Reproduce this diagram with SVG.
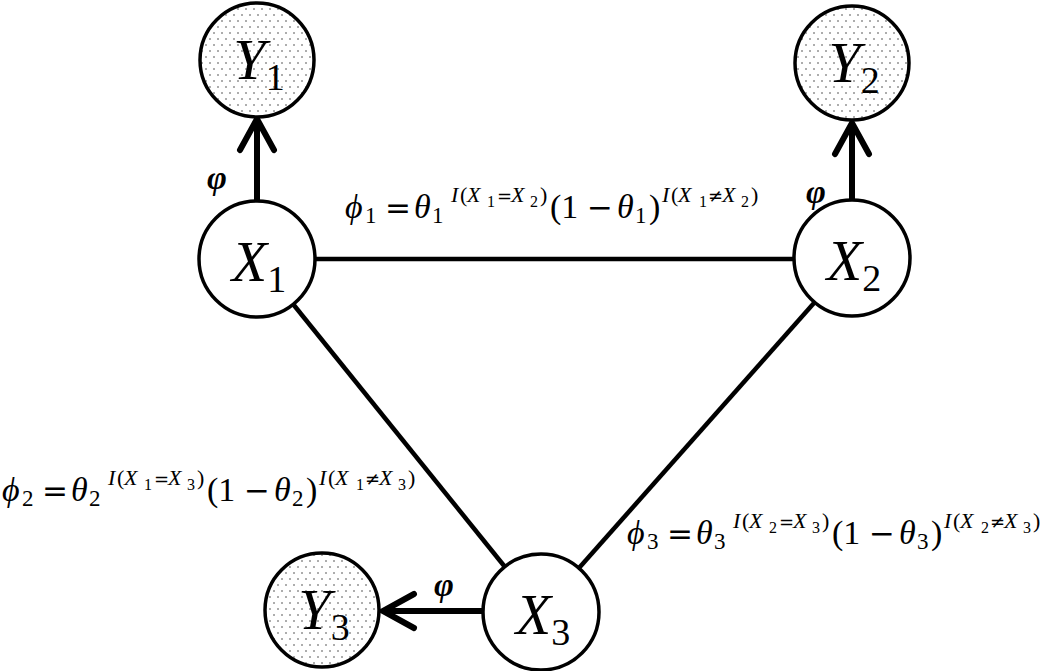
<svg xmlns="http://www.w3.org/2000/svg" width="1050" height="671" viewBox="0 0 1050 671">
<style>
.node{fill:#fff;stroke:#000;stroke-width:3.5}
.obs{fill:url(#dots);stroke:#000;stroke-width:3.5}
.edge{stroke:#000;stroke-width:4.5;fill:none}
.arr{stroke:#000;stroke-width:6;fill:none}
.nl{font-family:"Liberation Serif",serif;font-size:58px;fill:#000;text-anchor:middle}
.nl .i{font-style:italic}
.nl .s{font-size:38px;font-style:normal}
.eq{font-family:"Liberation Serif",serif;font-size:34px;fill:#000}
.i{font-style:italic}
.op{font-family:"DejaVu Sans",sans-serif;font-size:31px}
.sub{font-size:23px}
.sup{font-size:22px}
.sup.op{font-size:18px}
.ss{font-size:16px}
.phi{font-family:"Liberation Serif",serif;font-size:34px;font-weight:bold;font-style:italic;fill:#000}
</style>
<defs>
<pattern id="dots" width="8" height="12" patternUnits="userSpaceOnUse">
<rect width="8" height="12" fill="#fff"/>
<circle cx="2" cy="3" r="0.8" fill="#444"/>
<circle cx="6" cy="9" r="0.8" fill="#444"/>
</pattern>
<marker id="chev" markerUnits="userSpaceOnUse" viewBox="-45 -25 50 50" markerWidth="50" markerHeight="50" refX="0" refY="0" orient="auto" overflow="visible">
<path d="M -31 -17 L 0 0 L -31 17" fill="none" stroke="#000" stroke-width="6" stroke-linecap="round" stroke-linejoin="miter"/>
</marker>
</defs>

<g id="connectors">
<line class="edge" x1="315" y1="259" x2="794" y2="259"/>
<line class="edge" x1="293" y1="304" x2="505" y2="567"/>
<line class="edge" x1="814" y1="303" x2="579" y2="568"/>
<line class="arr" x1="257" y1="201" x2="257" y2="119" marker-end="url(#chev)"/>
<line class="arr" x1="852" y1="200" x2="852" y2="123" marker-end="url(#chev)"/>
<line class="arr" x1="483" y1="611" x2="383" y2="611" marker-end="url(#chev)"/>
<text class="phi" x="207" y="189">φ</text>
<text class="phi" x="806" y="203">φ</text>
<text class="phi" x="434" y="596">φ</text>
</g>

<g id="Y1">
<circle class="obs" cx="257" cy="60" r="57"/>
<text class="nl" x="259" y="79"><tspan class="i">Y</tspan><tspan class="s" dy="11">1</tspan></text>
</g>
<g id="Y2">
<circle class="obs" cx="852" cy="63" r="57"/>
<text class="nl" x="854" y="82"><tspan class="i">Y</tspan><tspan class="s" dy="11">2</tspan></text>
</g>
<g id="Y3">
<circle class="obs" cx="322" cy="610" r="57"/>
<text class="nl" x="324" y="629"><tspan class="i">Y</tspan><tspan class="s" dy="11">3</tspan></text>
</g>
<g id="X1">
<circle class="node" cx="257" cy="259" r="58"/>
<text class="nl" x="259" y="281"><tspan class="i">X</tspan><tspan class="s" dy="11">1</tspan></text>
</g>
<g id="X2">
<circle class="node" cx="852" cy="258" r="58"/>
<text class="nl" x="854" y="280"><tspan class="i">X</tspan><tspan class="s" dy="11">2</tspan></text>
</g>
<g id="X3">
<circle class="node" cx="541" cy="612" r="58"/>
<text class="nl" x="543" y="634"><tspan class="i">X</tspan><tspan class="s" dy="11">3</tspan></text>
</g>

<g id="label-phi1">
<text class="eq"><tspan class="i" x="345" y="218">ϕ</tspan><tspan class="sub" x="365" y="223">1</tspan><tspan class="op" x="385" y="218">=</tspan><tspan class="i" x="414" y="218">θ</tspan><tspan class="sub" x="432" y="223">1</tspan><tspan class="sup i" x="451" y="202">I</tspan><tspan class="sup" x="460" y="202">(</tspan><tspan class="sup i" x="467" y="202">X</tspan><tspan class="ss" x="487" y="207">1</tspan><tspan class="sup op" x="497" y="202">=</tspan><tspan class="sup i" x="511" y="202">X</tspan><tspan class="ss" x="530" y="207">2</tspan><tspan class="sup" x="540" y="202">)</tspan><tspan x="550" y="218">(1</tspan><tspan class="op" x="587" y="218">−</tspan><tspan class="i" x="617" y="218">θ</tspan><tspan class="sub" x="635" y="223">1</tspan><tspan x="649" y="218">)</tspan><tspan class="sup i" x="662" y="202">I</tspan><tspan class="sup" x="671" y="202">(</tspan><tspan class="sup i" x="678" y="202">X</tspan><tspan class="ss" x="699" y="207">1</tspan><tspan class="sup op" x="708" y="202">≠</tspan><tspan class="sup i" x="722" y="202">X</tspan><tspan class="ss" x="741" y="207">2</tspan><tspan class="sup" x="751" y="202">)</tspan></text>
</g>
<g id="label-phi2">
<text class="eq"><tspan class="i" x="2" y="501">ϕ</tspan><tspan class="sub" x="22" y="506">2</tspan><tspan class="op" x="42" y="501">=</tspan><tspan class="i" x="71" y="501">θ</tspan><tspan class="sub" x="89" y="506">2</tspan><tspan class="sup i" x="108" y="485">I</tspan><tspan class="sup" x="117" y="485">(</tspan><tspan class="sup i" x="124" y="485">X</tspan><tspan class="ss" x="144" y="490">1</tspan><tspan class="sup op" x="154" y="485">=</tspan><tspan class="sup i" x="168" y="485">X</tspan><tspan class="ss" x="187" y="490">3</tspan><tspan class="sup" x="197" y="485">)</tspan><tspan x="207" y="501">(1</tspan><tspan class="op" x="244" y="501">−</tspan><tspan class="i" x="274" y="501">θ</tspan><tspan class="sub" x="292" y="506">2</tspan><tspan x="306" y="501">)</tspan><tspan class="sup i" x="319" y="485">I</tspan><tspan class="sup" x="328" y="485">(</tspan><tspan class="sup i" x="335" y="485">X</tspan><tspan class="ss" x="356" y="490">1</tspan><tspan class="sup op" x="365" y="485">≠</tspan><tspan class="sup i" x="379" y="485">X</tspan><tspan class="ss" x="398" y="490">3</tspan><tspan class="sup" x="408" y="485">)</tspan></text>
</g>
<g id="label-phi3">
<text class="eq"><tspan class="i" x="627" y="544">ϕ</tspan><tspan class="sub" x="647" y="549">3</tspan><tspan class="op" x="667" y="544">=</tspan><tspan class="i" x="696" y="544">θ</tspan><tspan class="sub" x="714" y="549">3</tspan><tspan class="sup i" x="733" y="528">I</tspan><tspan class="sup" x="742" y="528">(</tspan><tspan class="sup i" x="749" y="528">X</tspan><tspan class="ss" x="769" y="533">2</tspan><tspan class="sup op" x="779" y="528">=</tspan><tspan class="sup i" x="793" y="528">X</tspan><tspan class="ss" x="812" y="533">3</tspan><tspan class="sup" x="822" y="528">)</tspan><tspan x="832" y="544">(1</tspan><tspan class="op" x="869" y="544">−</tspan><tspan class="i" x="899" y="544">θ</tspan><tspan class="sub" x="917" y="549">3</tspan><tspan x="931" y="544">)</tspan><tspan class="sup i" x="944" y="528">I</tspan><tspan class="sup" x="953" y="528">(</tspan><tspan class="sup i" x="960" y="528">X</tspan><tspan class="ss" x="981" y="533">2</tspan><tspan class="sup op" x="990" y="528">≠</tspan><tspan class="sup i" x="1004" y="528">X</tspan><tspan class="ss" x="1023" y="533">3</tspan><tspan class="sup" x="1033" y="528">)</tspan></text>
</g>
</svg>
